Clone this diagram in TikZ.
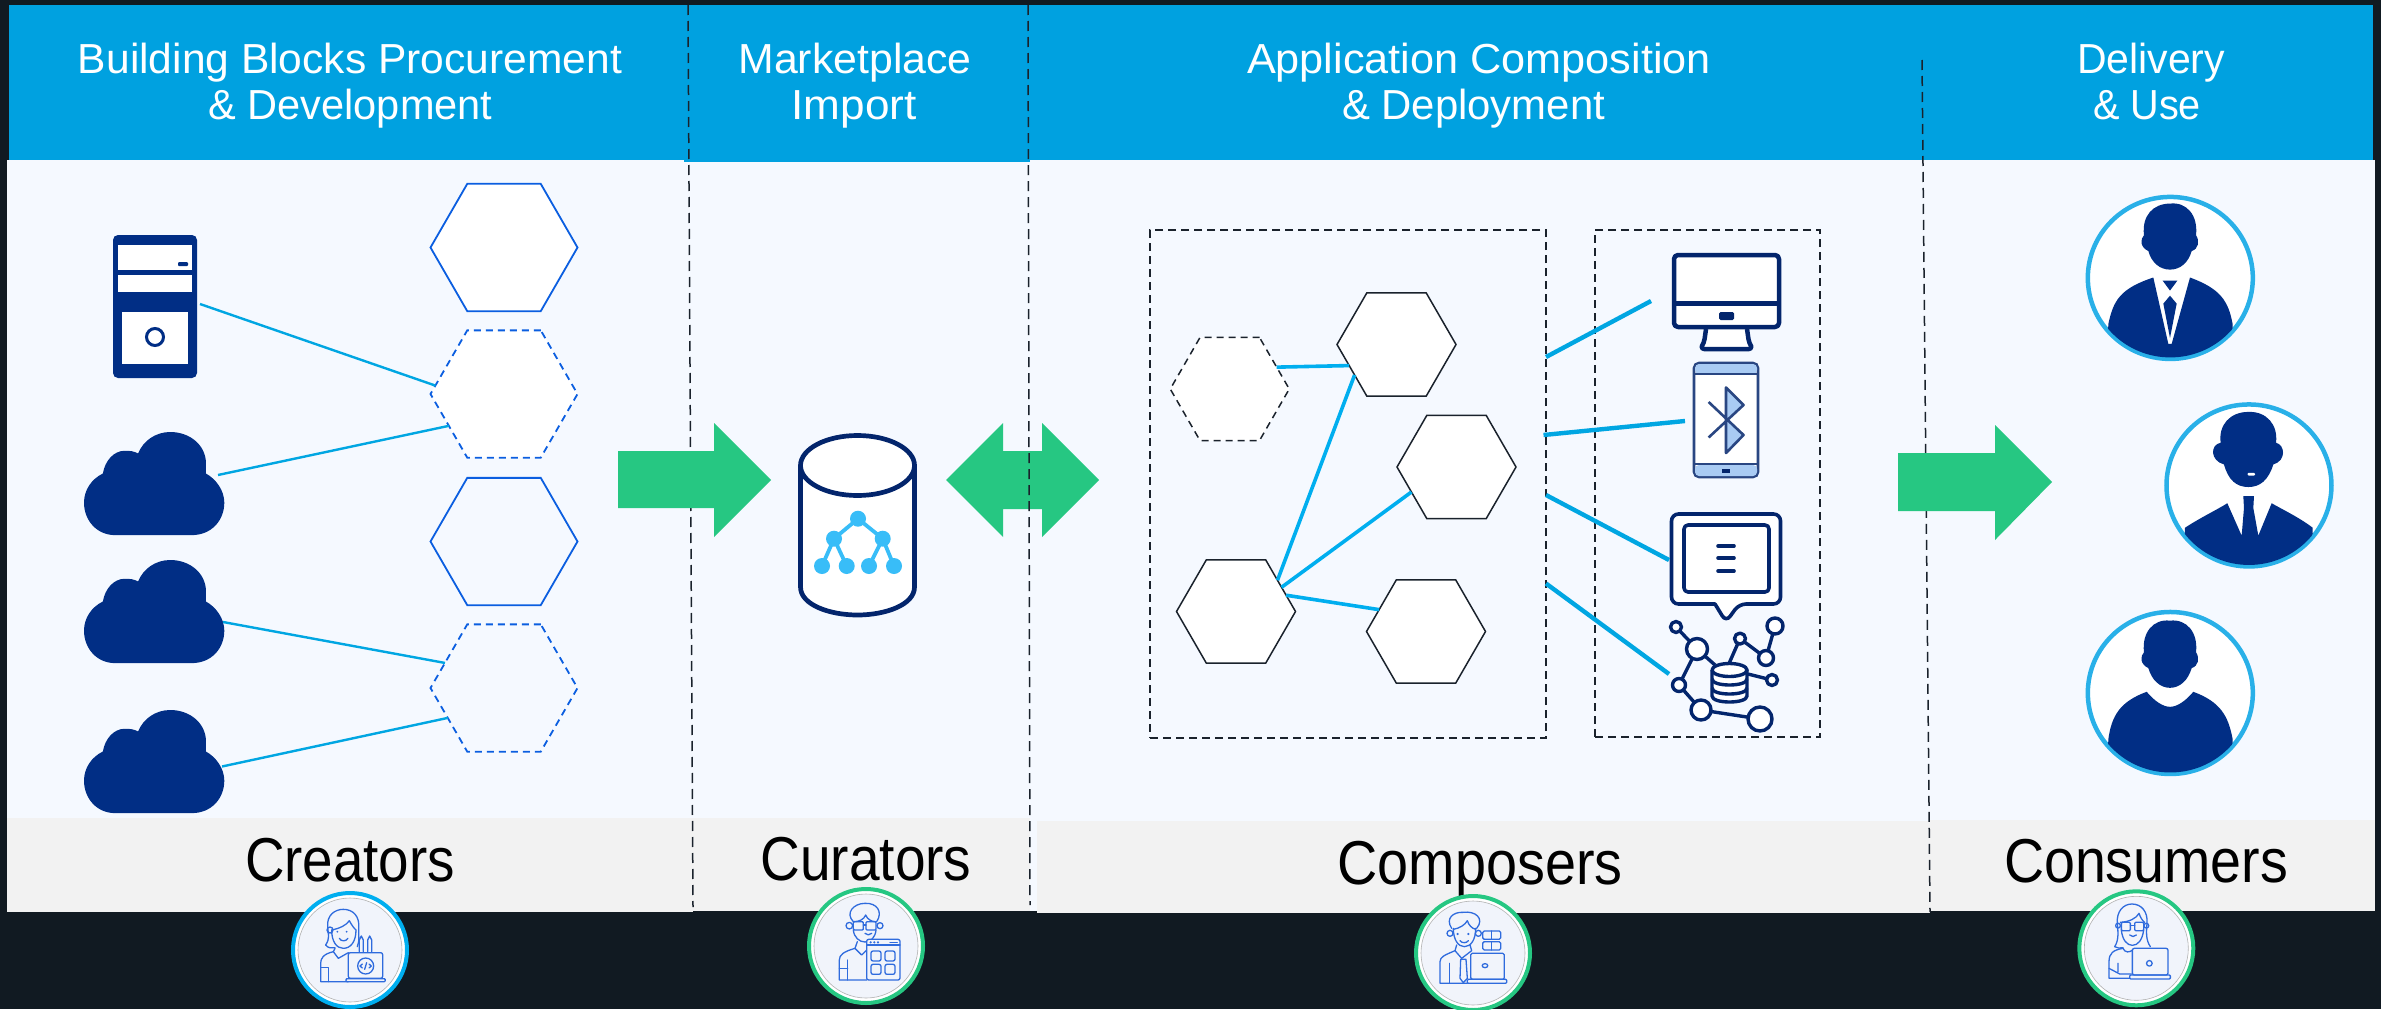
\documentclass[tikz,border=0pt]{standalone}
\usepackage{graphicx}
\usepackage{fontspec}
\setmainfont{Liberation Sans}
\usetikzlibrary{shapes.geometric}
\definecolor{dark}{HTML}{111A22}
\definecolor{hdr}{HTML}{00A1E0}
\definecolor{panel}{HTML}{F5F9FF}
\definecolor{foot}{HTML}{F2F2F2}
\definecolor{grn}{HTML}{26C782}
\definecolor{navy}{HTML}{012E85}
\definecolor{deepnavy}{HTML}{03256C}
\definecolor{hexblue}{HTML}{0B5EE0}
\definecolor{wire}{HTML}{00A6E2}
\definecolor{wirebright}{HTML}{00AEEF}
\definecolor{personblue}{HTML}{29B0E8}
\definecolor{tree}{HTML}{38BDF8}
\definecolor{lineblk}{HTML}{1A222C}
\definecolor{icoblue}{HTML}{2F6BDD}
\definecolor{avfill}{HTML}{F1F4FB}
\definecolor{ltblue}{HTML}{A9CBF3}
\newcommand{\fitw}[2]{\resizebox{#1pt}{\height}{#2}}
\tikzset{
  hexbase/.style={regular polygon,regular polygon sides=6,inner sep=0pt,outer sep=0pt},
  bighex/.style={hexbase,minimum size=147pt,draw=hexblue,line width=1.8pt},
  smallhex/.style={hexbase,minimum size=119pt,draw=lineblk,fill=white,line width=1.5pt},
  hexdash/.style={dash pattern=on 7pt off 5pt},
  groupbox/.style={draw=lineblk,line width=1.5pt,dash pattern=on 8pt off 5pt,inner sep=0pt},
  divider/.style={draw=lineblk,line width=1.5pt,dash pattern=on 10pt off 6pt},
  thinwire/.style={draw=wire,line width=2.4pt},
  midwire/.style={draw=wirebright,line width=3.6pt},
  fatwire/.style={draw=wire,line width=4.4pt},
  hdrtext/.style={text=white,align=center,inner sep=0pt,font=\fontsize{42}{46}\selectfont},
  foottext/.style={text=black,anchor=base,inner sep=0pt,font=\fontsize{62}{70}\selectfont},
  ico/.style={draw=icoblue,line width=1.3pt,line join=round,line cap=round},
  icon/.style={draw=deepnavy,line width=3.6pt,line join=round},
  netlink/.style={icon,line width=3.4pt},
  ring/.style={circle,line width=4pt,fill=white,inner sep=0pt,minimum size=114pt},
  personring/.style={draw=personblue,line width=4.5pt,fill=white},
}
\newcommand{\cloudat}[2]{%
  \begin{scope}[shift={(#1,#2)},x=0.5102pt,y=-0.4464pt]
  \fill[navy] (61,231) -- (211,231) .. controls (250,231) and (275,198) .. (275,158)
   .. controls (275,130) and (258,105) .. (239,93) -- (239,70)
   .. controls (239,30) and (208,0) .. (169,0) .. controls (140,0) and (116,20) .. (106,48)
   .. controls (98,43) and (90,42) .. (80,42) .. controls (58,42) and (41,65) .. (37,93)
   .. controls (15,105) and (0,130) .. (0,158) .. controls (0,198) and (25,231) .. (61,231) -- cycle;
  \end{scope}}
\newcommand{\avatarbase}[3]{%
  \node[ring,draw=#3] (#1) at (#2) {};
  \draw[fill=avfill,draw=black!30,line width=0.6pt] (#2) circle (52pt);}
\begin{document}
\begin{tikzpicture}[x=1pt,y=-1pt]
\useasboundingbox (0,0) rectangle (2381,1009);
\fill[dark] (0,0) rectangle (2381,1009);
% panels
\fill[panel] (7,160) rectangle (2375,830);
\fill[panel] (1028,830) rectangle (1039,911);
\fill[hdr] (9,5) rectangle (684,160);
\fill[hdr] (684,5) rectangle (1030,162);
\fill[hdr] (1030,5) rectangle (2373,160);
\fill[foot] (7,818) rectangle (693,912);
\fill[foot] (693,818) rectangle (1030,911);
\fill[foot] (1037,821) rectangle (1930,913);
\fill[foot] (1930,820) rectangle (2375,911);
% header and footer text
\node[hdrtext] (h1) at (350,87) {\strut\fitw{544}{Building Blocks Procurement}\\\strut\fitw{284}{\& Development}\hspace*{-1pt}};
\node[hdrtext] (h2) at (855,87) {\strut\fitw{233}{Marketplace}\\\strut\fitw{125}{Import}\hspace*{2pt}};
\node[hdrtext] (h3) at (1479,87) {\strut\fitw{464}{Application Composition}\\\strut\fitw{263}{\& Deployment}\hspace*{11pt}};
\node[hdrtext] (h4) at (2151,87) {\strut\fitw{148}{Delivery}\\\strut\fitw{108}{\& Use}\hspace*{8pt}};
\node[foottext] (f1) at (350,881) {\fitw{210}{Creators}};
\node[foottext] (f2) at (866,880) {\fitw{211}{Curators}};
\node[foottext] (f3) at (1480,884) {\fitw{285}{Composers}};
\node[foottext] (f4) at (2146,882) {\fitw{284}{Consumers}};
% dividers under arrows
\coordinate (d1a) at (688,5); \coordinate (d1b) at (693,907);
\coordinate (d2a) at (1028,5); \coordinate (d2b) at (1030,905);
\coordinate (d3a) at (1922,60); \coordinate (d3b) at (1930,912);
\draw[divider] (d1a) -- (d1b);
\draw[divider] (d3a) -- (d3b);
% green arrows
\fill[grn] (618,451) -- (714,451) -- (714,423) -- (771,480) -- (714,537) -- (714,508) -- (618,508) -- cycle;
\fill[grn] (946,480) -- (1003,423) -- (1003,451) -- (1042,451) -- (1042,423) -- (1099,480) -- (1042,537) -- (1042,509) -- (1003,509) -- (1003,537) -- cycle;
\fill[grn] (1898,453) -- (1995,453) -- (1995,425) -- (2052,482) -- (1995,540) -- (1995,511) -- (1898,511) -- cycle;
\draw[divider] (d2a) -- (d2b);
% left column hexagons
\node[bighex,fill=white] (b1) at (504,247.5) {};
\node[bighex,fill=white,hexdash] (b2) at (504,394) {};
\node[bighex] (b3) at (504,541.5) {};
\node[bighex,hexdash] (b4) at (504,688) {};
% server
\fill[navy,rounded corners=5pt] (113,235) rectangle (197,378);
\fill[white] (118,245) rectangle (192,270);
\fill[white] (118,275) rectangle (192,292);
\fill[white] (122,312) rectangle (188,364);
\draw[navy,line width=3pt] (155,337) circle (8.5pt);
\fill[navy,rounded corners=1pt] (178,262) rectangle (188,266);
% clouds
\cloudat{84}{432}
\cloudat{84}{560}
\cloudat{84}{710}
\coordinate (srv) at (200,304);
\coordinate (cl1) at (218,475);
\coordinate (cl2) at (223,622);
\coordinate (cl3) at (222,766.5);
\draw[thinwire] (srv) -- (b2.173);
\draw[thinwire] (cl1) -- (b2.210);
\draw[thinwire] (cl2) -- (b4.157);
\draw[thinwire] (cl3) -- (b4.208);
% cylinder
\draw[deepnavy,line width=4.7pt,fill=white] (800.5,465.5) -- (800.5,587)
  .. controls (800.5,605) and (830,615) .. (857.5,615)
  .. controls (885,615) and (914.5,605) .. (914.5,587) -- (914.5,465.5);
\draw[deepnavy,line width=4.7pt,fill=white] (857.5,465.5) ellipse (57pt and 30pt);
\draw[tree,line width=3.8pt] (822,566) -- (834,538.7) -- (858,518.7) -- (882.7,538.7) -- (894,566);
\draw[tree,line width=3.8pt] (834,538.7) -- (846.7,566);
\draw[tree,line width=3.8pt] (882.7,538.7) -- (869,566);
\foreach \p in {(858,518.7),(834,538.7),(882.7,538.7),(822,566),(846.7,566),(869,566),(894,566)}
  \fill[tree] \p circle (8pt);
% composition boxes
\node[groupbox,minimum width=396pt,minimum height=508pt] (bx1) at (1348,484) {};
\node[groupbox,minimum width=225pt,minimum height=507pt] (bx2) at (1707.5,483.5) {};
\node[smallhex,hexdash] (ha) at (1229.75,389) {};
\node[smallhex] (hb) at (1396.5,344.5) {};
\node[smallhex] (hc) at (1456.5,467) {};
\node[smallhex] (hd) at (1236,611.5) {};
\node[smallhex] (he) at (1426,631.5) {};
\draw[midwire] (ha.25.6) -- (hb.204);
\draw[midwire] (hd.37.5) -- (hb.216.8);
\draw[midwire] (hd.28) -- (hc.209.7);
\draw[midwire] (hd.18.8) -- (he.155);
% monitor
\draw[icon,fill=white,line width=4.5pt,rounded corners=4pt] (1706,329) -- (1704,343) -- (1700,349) -- (1753,349) -- (1749,343) -- (1747,329);
\draw[icon,fill=white,line width=4.5pt,rounded corners=4pt] (1674,255) rectangle (1779,327);
\draw[icon,line width=5pt] (1674,303.5) -- (1779,303.5);
\fill[deepnavy,rounded corners=1.5pt] (1719,312) rectangle (1734,320);
% phone
\draw[deepnavy!85!white,line width=2.6pt,fill=white,rounded corners=5pt] (1694,363) rectangle (1758,477);
\fill[ltblue,rounded corners=4pt] (1695,364) rectangle (1757,374);
\fill[ltblue,rounded corners=4pt] (1695,465) rectangle (1757,476);
\draw[deepnavy!85!white,line width=2.6pt] (1694,374) -- (1758,374) (1694,464) -- (1758,464);
\fill[deepnavy] (1722,468.5) rectangle (1730,472.5);
\fill[ltblue] (1726,387.5) -- (1743.5,405) -- (1726,420) -- cycle;
\fill[ltblue] (1726,453) -- (1743.5,435) -- (1726,420) -- cycle;
\draw[deepnavy!85!white,line width=2.6pt,line join=round] (1708.6,402) -- (1743.5,435) -- (1726,453) -- (1726,387.5) -- (1743.5,405) -- (1708.6,437.5);
% bubble
\draw[icon,fill=white,rounded corners=7pt] (1671.5,514) -- (1780.5,514) -- (1780.5,604) -- (1739,604) -- (1726,622) [sharp corners] -- (1715,604) [rounded corners=7pt] -- (1671.5,604) -- cycle;
\draw[icon,rounded corners=4pt] (1684,525) rectangle (1769,592);
\foreach \yy in {546,558,571} \draw[icon,line width=3.6pt,line cap=round] (1718,\yy) -- (1734,\yy);
% network
\draw[netlink] (1676,627) -- (1697,649) -- (1679,685) -- (1701,710) -- (1760,719);
\draw[netlink] (1727,668) -- (1740,638.6) -- (1766,658) -- (1775,626);
\draw[netlink] (1748,674) -- (1772,680);
\draw[netlink] (1697,649) -- (1715,665);
\foreach \p/\r in {(1676,627)/5.5,(1697,649)/10.5,(1740,638.6)/5.5,(1775,626)/8,(1766,658)/7.5,(1772,680)/5.5,(1679,685)/6.5,(1701,710)/10,(1760,719)/12}
  \draw[netlink,fill=white] \p circle (\r pt);
\draw[netlink,fill=white] (1712,670) -- (1712,696) .. controls (1712,704) and (1747,704) .. (1747,696) -- (1747,670);
\draw[netlink,fill=white] (1729.5,670) ellipse (17.5pt and 6.5pt);
\draw[netlink] (1712,679) .. controls (1712,687) and (1747,687) .. (1747,679);
\draw[netlink] (1712,688) .. controls (1712,696) and (1747,696) .. (1747,688);
% right wires
\coordinate (l1a) at (1546,357); \coordinate (l1b) at (1651,301);
\coordinate (l2a) at (1543.5,435); \coordinate (l2b) at (1685,421);
\coordinate (l3a) at (1546,495); \coordinate (l3b) at (1669,560);
\coordinate (l4a) at (1546,583.5); \coordinate (l4b) at (1669,674);
\draw[fatwire] (l1a) -- (l1b);
\draw[fatwire] (l2a) -- (l2b);
\draw[fatwire] (l3a) -- (l3b);
\draw[fatwire] (l4a) -- (l4b);
% persons
\begin{scope}[shift={(1950,170)},x=0.3333pt,y=-0.3953pt]
 \draw[personring] (661,273) ellipse (82.5pt and 81pt);
 \begin{scope}
  \clip (661,273) ellipse (81pt and 79.5pt);
  \fill[navy] (660,85) .. controls (710,80) and (745,115) .. (738,165) .. controls (750,180) and (745,200) .. (725,205) .. controls (715,235) and (690,252) .. (660,252) .. controls (630,252) and (605,235) .. (595,205) .. controls (570,195) and (570,175) .. (582,165) .. controls (575,115) and (610,85) .. (660,85) -- cycle;
  \fill[navy] (470,500) -- (475,390) .. controls (490,330) and (510,300) .. (610,272) -- (655,440) -- (665,440) -- (720,272) .. controls (810,300) and (835,330) .. (848,390) -- (850,500) -- cycle;
  \fill[navy] (638,280) -- (682,280) -- (660,305) -- cycle;
  \fill[navy] (660,318) -- (680,338) -- (660,425) -- (640,338) -- cycle;
 \end{scope}
 \draw[personring] (897,798) ellipse (82.5pt and 81pt);
 \begin{scope}
  \clip (897,798) ellipse (81pt and 79.5pt);
  \fill[navy] (895,612) .. controls (950,610) and (985,645) .. (978,690) .. controls (1005,695) and (1010,735) .. (970,745) .. controls (955,785) and (930,802) .. (895,802) .. controls (860,802) and (835,785) .. (822,745) .. controls (780,735) and (780,695) .. (812,690) .. controls (805,645) and (840,612) .. (895,612) -- cycle;
  \fill[navy] (700,1020) -- (705,905) .. controls (750,880) and (800,860) .. (832,843) -- (875,925) -- (882,855) -- (880,825) -- (912,825) -- (910,855) -- (925,925) -- (965,843) .. controls (1000,860) and (1050,880) .. (1088,905) -- (1090,1020) -- cycle;
  \fill[white,rounded corners=1pt] (893,766) rectangle (915,773);
 \end{scope}
 \draw[personring] (661,1323) ellipse (82.5pt and 81pt);
 \begin{scope}
  \clip (661,1323) ellipse (81pt and 79.5pt);
  \fill[navy] (660,1140) .. controls (710,1135) and (745,1170) .. (738,1220) .. controls (750,1235) and (745,1255) .. (725,1260) .. controls (715,1290) and (690,1310) .. (660,1310) .. controls (630,1310) and (605,1290) .. (595,1260) .. controls (570,1250) and (570,1230) .. (582,1220) .. controls (575,1170) and (610,1135) .. (660,1140) -- cycle;
  \fill[navy] (470,1550) -- (475,1440) .. controls (485,1380) and (510,1345) .. (590,1320) .. controls (615,1345) and (640,1358) .. (660,1358) .. controls (680,1358) and (705,1345) .. (730,1320) .. controls (810,1345) and (835,1380) .. (848,1440) -- (850,1550) -- cycle;
 \end{scope}
\end{scope}
% avatars
\avatarbase{av1}{350,950}{wirebright}
\begin{scope}[shift={(280,880)},x=0.3333pt,y=-0.3333pt]
 \draw[ico] (137,195) .. controls (150,175) and (145,165) .. (143,140) .. controls (140,105) and (165,88) .. (190,88) .. controls (220,88) and (240,110) .. (236,145) .. controls (235,165) and (240,180) .. (232,200);
 \draw[ico] (137,195) .. controls (145,205) and (155,205) .. (165,203);
 \draw[ico] (155,150) .. controls (155,185) and (170,205) .. (190,205) .. controls (212,205) and (228,185) .. (228,150);
 \draw[ico] (155,150) .. controls (180,145) and (200,135) .. (208,122) .. controls (215,135) and (222,145) .. (228,150);
 \draw[ico] (150,150) circle (3pt);
 \fill[icoblue] (172,155) circle (1pt) (200,155) circle (1pt);
 \draw[ico] (178,175) .. controls (183,185) and (198,185) .. (204,175);
 \draw[ico] (165,205) -- (160,215) -- (175,235) -- (205,218);
 \draw[ico] (160,215) .. controls (130,222) and (122,235) .. (122,250) -- (122,305) -- (205,305);
 \draw[ico] (122,262) -- (145,262) -- (145,305);
 \draw[ico,rounded corners=2pt] (205,218) rectangle (308,295);
 \draw[ico,rounded corners=1pt] (198,296) rectangle (316,305);
 \draw[ico] (257,258) circle (8pt);
 \draw[ico] (247,252) -- (240,258) -- (247,264) (267,252) -- (274,258) -- (267,264) (260,248) -- (254,268);
 \draw[ico] (238,215) -- (238,180) -- (244,168) -- (250,180) -- (250,215);
 \draw[ico] (263,215) -- (263,180) -- (269,168) -- (275,180) -- (275,215);
\end{scope}
\avatarbase{av2}{866,946}{grn}
\begin{scope}[shift={(800,880)},x=0.3333pt,y=-0.3333pt]
 \draw[ico] (160,125) .. controls (135,100) and (160,70) .. (195,70) .. controls (230,68) and (250,95) .. (230,125);
 \draw[ico] (162,125) .. controls (178,125) and (192,118) .. (197,105) .. controls (202,118) and (215,125) .. (226,125);
 \draw[ico] (160,150) .. controls (162,172) and (178,186) .. (195,186) .. controls (212,186) and (226,172) .. (228,150);
 \draw[ico] (148,137) circle (3.3pt) (240,137) circle (3pt);
 \draw[ico,rounded corners=1pt] (160,125) rectangle (190,150) (198,125) rectangle (228,150);
 \draw[ico] (190,135) -- (198,135);
 \draw[ico] (195,160) .. controls (200,166) and (210,166) .. (215,160);
 \draw[ico] (172,185) -- (165,205) -- (185,225) -- (200,210);
 \draw[ico] (165,205) .. controls (130,215) and (118,225) .. (118,240) -- (118,300) -- (200,300);
 \draw[ico] (143,240) -- (143,300) (118,265) -- (143,265);
 \draw[ico,fill=avfill,rounded corners=2pt] (200,178) rectangle (300,300);
 \draw[ico] (200,195) -- (300,195) (270,187) -- (292,187);
 \fill[icoblue] (212,187) circle (1.2pt) (223,187) circle (1.2pt) (234,187) circle (1.2pt);
 \draw[ico,rounded corners=2pt] (213,213) rectangle (243,243) (255,213) rectangle (285,243) (213,253) rectangle (243,283) (255,253) rectangle (285,283);
\end{scope}
\avatarbase{av3}{1473,953}{grn}
\begin{scope}[shift={(1410,880)},x=0.3333pt,y=-0.3333pt]
 \draw[ico] (125,145) .. controls (105,115) and (130,95) .. (160,97) .. controls (195,92) and (225,115) .. (200,145);
 \draw[ico] (130,148) .. controls (148,145) and (165,135) .. (172,122) .. controls (176,135) and (185,145) .. (197,148);
 \draw[ico] (130,145) .. controls (130,180) and (145,200) .. (163,200) .. controls (182,200) and (197,180) .. (197,145);
 \draw[ico] (120,160) circle (3pt) (205,160) circle (3pt);
 \fill[icoblue] (143,162) circle (1.2pt) (175,162) circle (1.2pt);
 \draw[ico] (150,182) .. controls (155,190) and (170,190) .. (175,182);
 \draw[ico] (140,195) -- (135,212) -- (155,235) -- (185,212) -- (180,195);
 \draw[ico] (135,212) .. controls (105,225) and (90,230) .. (90,245) -- (90,310) -- (172,310);
 \draw[ico] (118,250) -- (118,310);
 \draw[ico] (152,238) -- (168,238) -- (172,295) -- (160,308) -- (150,295) -- cycle;
 \draw[ico,rounded corners=1.5pt] (218,153) rectangle (272,178) (218,185) rectangle (272,210);
 \draw[ico] (245,153) -- (245,178) (245,185) -- (245,210);
 \draw[ico,fill=avfill,rounded corners=1.5pt] (182,220) rectangle (283,298);
 \draw[ico,rounded corners=1pt] (172,298) rectangle (290,310);
 \draw[ico] (225,257) ellipse (2.8pt and 2pt);
\end{scope}
\avatarbase{av4}{2136.3,948.3}{grn}
\begin{scope}[shift={(2073,880)},x=0.3333pt,y=-0.3333pt]
 \draw[ico] (125,200) .. controls (138,180) and (135,155) .. (133,130) .. controls (130,95) and (150,72) .. (177,72) .. controls (205,72) and (225,95) .. (222,130) .. controls (220,155) and (218,180) .. (232,200);
 \draw[ico] (125,200) .. controls (132,205) and (142,205) .. (150,203);
 \draw[ico] (145,150) .. controls (148,180) and (162,196) .. (178,196) .. controls (195,196) and (208,180) .. (212,150);
 \draw[ico] (142,127) .. controls (170,125) and (190,115) .. (198,100) .. controls (202,112) and (208,122) .. (215,127);
 \draw[ico] (135,137) circle (2.4pt) (220,137) circle (2.4pt);
 \draw[ico,rounded corners=1pt] (145,127) rectangle (172,152) (185,127) rectangle (212,152);
 \draw[ico] (172,137) -- (185,137);
 \draw[ico] (170,165) .. controls (175,171) and (185,171) .. (190,165);
 \draw[ico] (150,205) .. controls (120,210) and (108,220) .. (108,245) -- (108,295) -- (170,295);
 \draw[ico] (150,205) .. controls (155,218) and (170,220) .. (182,207);
 \draw[ico] (108,265) -- (140,282) -- (175,282) (135,250) -- (135,275);
 \draw[ico,fill=avfill,rounded corners=2pt] (178,205) rectangle (285,285);
 \draw[ico,rounded corners=1pt] (170,285) rectangle (292,297);
 \draw[ico] (229,250) circle (2.8pt);
\end{scope}
\end{tikzpicture}
\end{document}
